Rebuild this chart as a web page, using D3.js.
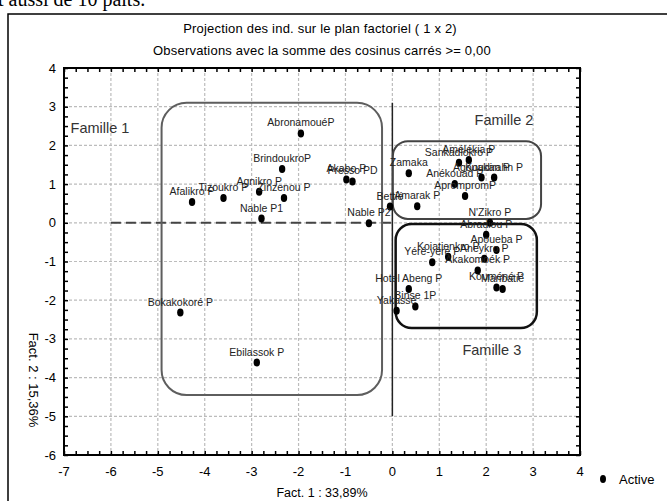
<!DOCTYPE html>
<html><head><meta charset="utf-8">
<script src="https://cdn.jsdelivr.net/npm/d3@7"></script>
<style>
body{margin:0;background:#fff;}
svg text{font-family:"Liberation Sans",Arial,sans-serif;}
</style></head>
<body>
<svg id="chart" width="667" height="501"></svg>
<script>
const names = ["AbronamouéP","BrindoukroP","Agnikro P","Zinzenou P","Tizoukro P","Afalikro P","Nable P1","Akabo P","Presso PD","Nable P2","Bokakokoré P","Ebilassok P","Bettié","Amarak P","Zamaka","Sankadiokro P","Amélékia P","Anékouad P","AprompromP","Agouakan P","Koudirahn P","N'Zikro P","Abradiou P","Apoueba P","Koiatienkro P","Aneykro P","Yéré-yéré P","Akakomoék P","Hotel Abeng P","Binse 1P","Yakassé","Kouméné P","Manbatié"];
const fact1 = [-1.95,-2.35,-2.84,-2.31,-3.60,-4.27,-2.79,-0.98,-0.85,-0.50,-4.52,-2.89,-0.05,0.53,0.35,1.42,1.63,1.33,1.55,1.90,2.17,2.08,2.00,2.22,1.19,1.96,0.85,1.82,0.35,0.49,0.09,2.22,2.35];
const fact2 = [2.31,1.39,0.80,0.64,0.64,0.54,0.11,1.12,1.07,-0.01,-2.32,-3.61,0.42,0.43,1.28,1.55,1.62,1.00,0.69,1.17,1.17,0.00,-0.31,-0.70,-0.88,-0.93,-1.02,-1.23,-1.71,-2.16,-2.27,-1.67,-1.71];
const xTicks = [-7,-6,-5,-4,-3,-2,-1,0,1,2,3,4];
const yTicks = [-6,-5,-4,-3,-2,-1,0,1,2,3,4];
const familyNames = ["Famille 1","Famille 2","Famille 3"];
// boxes in factor units: [x0, x1, y0(top), y1(bottom)]
const familyBoxes = [[-4.92,-0.22,3.10,-4.45],[0.01,3.17,2.11,0.10],[0.07,3.08,-0.03,-2.72]];
const familyLabelPos = [[-6.86,2.45],[2.38,2.66],[2.12,-3.29]];

const svg = d3.select("#chart");
const L=64, R=580, T=68, B=455;
const x = d3.scaleLinear().domain([-7,4]).range([L,R]);
const y = d3.scaleLinear().domain([-6,4]).range([B,T]);

// clipped text from document above
svg.append("text").attr("x",-2).attr("y",6).style("font-family","'Liberation Serif','Times New Roman',serif")
  .style("font-size","20px").attr("fill","#000").text("t aussi de 10 paits.");
// outer frame
svg.append("rect").attr("x",8).attr("y",14).attr("width",700).attr("height",600)
  .attr("fill","none").attr("stroke","#000").attr("stroke-width",1.5);

// titles
svg.append("text").attr("x",320).attr("y",33).attr("text-anchor","middle").style("font-size","13px")
  .style("letter-spacing","0.2px").text("Projection des ind. sur le plan factoriel ( 1 x  2)");
svg.append("text").attr("x",322).attr("y",55).attr("text-anchor","middle").style("font-size","13px")
  .style("letter-spacing","0.2px").text("Observations avec la somme des cosinus carrés >=  0,00");

// grid
const g = svg.append("g");
g.selectAll("line.vg").data(xTicks.slice(1,-1)).join("line")
  .attr("x1",d=>x(d)).attr("x2",d=>x(d)).attr("y1",T).attr("y2",B)
  .attr("stroke","#bcbcbc").attr("stroke-width",1.2).attr("stroke-dasharray","3,2");
g.selectAll("line.hg").data(yTicks.slice(1,-1)).join("line")
  .attr("x1",L).attr("x2",R).attr("y1",d=>y(d)).attr("y2",d=>y(d))
  .attr("stroke","#bcbcbc").attr("stroke-width",1.2).attr("stroke-dasharray","3,2");

// axes with inward minor ticks
const xMinor = d3.range(-7,4.001,0.25);
const yMinor = d3.range(-6,4.001,0.25);
const axB = d3.axisTop(x).tickValues(xMinor).tickSize(4).tickFormat("");
const axT = d3.axisBottom(x).tickValues(xMinor).tickSize(4).tickFormat("");
const axL = d3.axisRight(y).tickValues(yMinor).tickSize(4).tickFormat("");
const axR = d3.axisLeft(y).tickValues(yMinor).tickSize(4).tickFormat("");
[[axB,`translate(0,${B})`],[axT,`translate(0,${T})`],[axL,`translate(${L},0)`],[axR,`translate(${R},0)`]].forEach(([a,t])=>{
  const ga = svg.append("g").attr("transform",t).call(a);
  ga.select(".domain").remove();
  ga.selectAll("line").attr("stroke","#000").attr("stroke-width",1.5);
});
svg.append("rect").attr("x",L).attr("y",T).attr("width",R-L).attr("height",B-T)
  .attr("fill","none").attr("stroke","#000").attr("stroke-width",2);

// tick labels
svg.selectAll("text.xt").data(xTicks).join("text").attr("x",d=>x(d)).attr("y",476)
  .attr("text-anchor","middle").style("font-size","13px").text(d=>d);
svg.selectAll("text.yt").data(yTicks).join("text").attr("x",56).attr("y",d=>y(d)+4.5)
  .attr("text-anchor","end").style("font-size","13px").text(d=>d);

// axis titles
svg.append("text").attr("x",322).attr("y",497).attr("text-anchor","middle").style("font-size","12.5px")
  .text("Fact. 1 : 33,89%");
svg.append("text").attr("transform","translate(29,380) rotate(90)").attr("text-anchor","middle")
  .style("font-size","13px").text("Fact. 2 : 15,36%");

// reference lines
svg.append("line").attr("x1",x(-6)).attr("x2",x(0)).attr("y1",y(0)).attr("y2",y(0))
  .attr("stroke","#444").attr("stroke-width",2).attr("stroke-dasharray","10,5");
svg.append("line").attr("x1",x(0)).attr("x2",x(0)).attr("y1",y(3.1)).attr("y2",y(-5))
  .attr("stroke","#222").attr("stroke-width",1.5);

// family boxes
const boxStroke = ["#5e5e5e","#444","#111"];
const boxW = [2,2,2.5];
const boxR = [25,15,16];
familyBoxes.forEach((b,i)=>{
  svg.append("rect").attr("x",x(b[0])).attr("y",y(b[2])).attr("width",x(b[1])-x(b[0]))
    .attr("height",y(b[3])-y(b[2])).attr("rx",boxR[i]).attr("fill","none")
    .attr("stroke",boxStroke[i]).attr("stroke-width",boxW[i]);
});
familyNames.forEach((n,i)=>{
  svg.append("text").attr("x",x(familyLabelPos[i][0])).attr("y",y(familyLabelPos[i][1])+5)
    .attr("text-anchor",i===0?"start":"middle").style("font-size","14.5px").attr("fill","#333").text(n);
});

// points
const pts = names.map((n,i)=>({n, a:fact1[i], b:fact2[i]}));
svg.selectAll("ellipse.pt").data(pts).join("ellipse").attr("cx",d=>x(d.a)).attr("cy",d=>y(d.b))
  .attr("rx",3.2).attr("ry",4).attr("fill","#000");
svg.selectAll("text.lb").data(pts).join("text").attr("x",d=>x(d.a)).attr("y",d=>y(d.b)-7)
  .attr("text-anchor","middle").style("font-size","10.5px").attr("fill","#222").text(d=>d.n);

// legend
svg.append("ellipse").attr("cx",603).attr("cy",479).attr("rx",3).attr("ry",4).attr("fill","#000");
svg.append("text").attr("x",619).attr("y",484).style("font-size","13px").text("Active");
</script>
</body></html>
